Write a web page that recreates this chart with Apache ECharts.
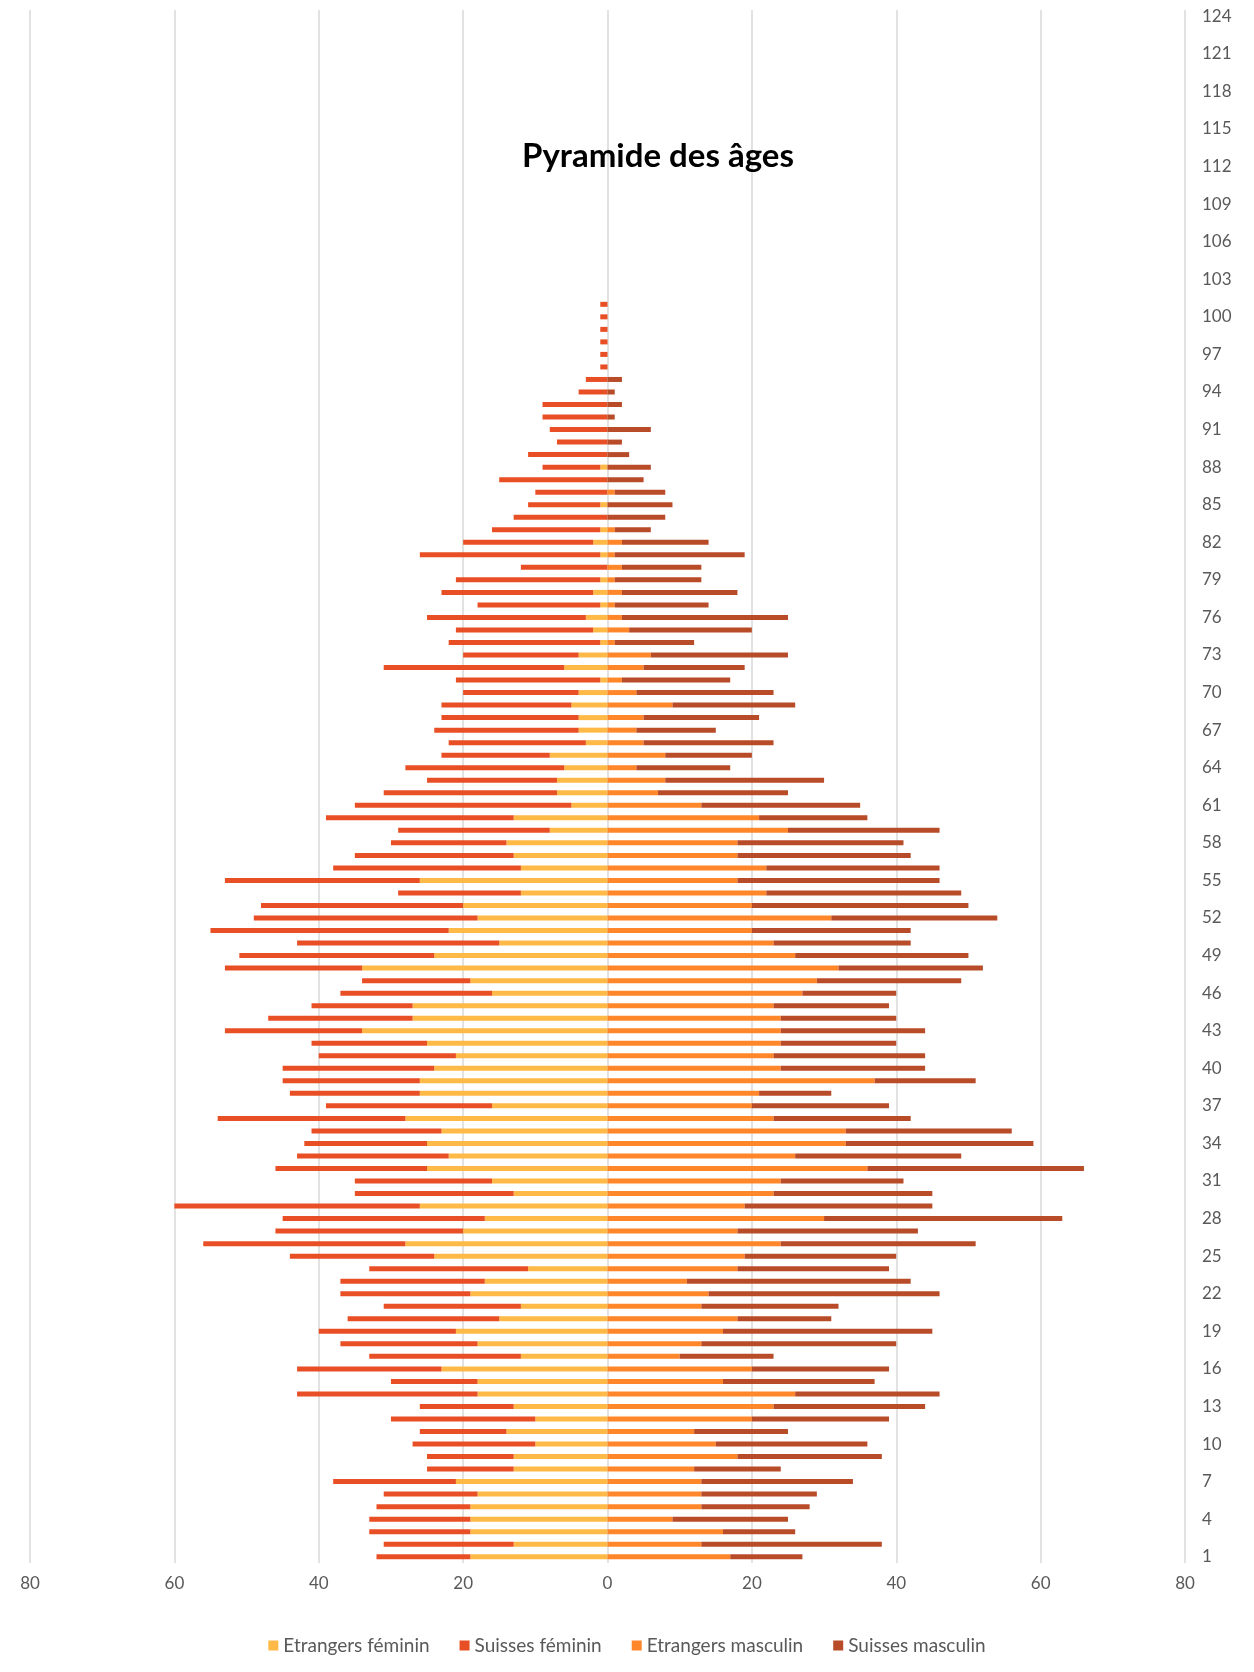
<!DOCTYPE html>
<html>
<head>
<meta charset="utf-8">
<script src="https://cdn.jsdelivr.net/npm/echarts@6/dist/echarts.min.js"></script>
<style>
html,body{margin:0;padding:0;background:#fff;}
#chart{width:1254px;height:1672px;}
</style>
</head>
<body>
<div id="chart"></div>
<script>
// Ages 1..124 (category axis)
const ages = [];
for (let a = 1; a <= 124; a++) ages.push(String(a));

// Values per age, index 0 = age 1 (ages 1..101)
const etrangersFeminin = [19,13,19,19,19,18,21,13,13,10, 14,10,13,18,18,23,12,18,21,15, 12,19,17,11,24,28,20,17,26,13, 16,25,22,25,23,28,16,26,26,24, 21,25,34,27,27,16,19,34,24,15, 22,18,20,12,26,12,13,14,8,13, 5,7,7,6,8,3,4,4,5,4, 1,6,4,1,2,3,1,2,1,0, 1,2,1,0,1,0,0,1,0,0, 0,0,0,0,0,0,0,0,0,0, 0];
const suissesFeminin = [13,18,14,14,13,13,17,12,12,17, 12,20,13,25,12,20,21,19,19,21, 19,18,20,22,20,28,26,28,34,22, 19,21,21,17,18,26,23,18,19,21, 19,16,19,20,14,21,15,19,27,28, 33,31,28,17,27,26,22,16,21,26, 30,24,18,22,15,19,20,19,18,16, 20,25,16,21,19,22,17,21,20,12, 25,18,15,13,10,10,15,8,11,7, 8,9,9,4,3,1,1,1,1,1, 1];
const etrangersMasculin = [17,13,16,9,13,13,13,12,18,15, 12,20,23,26,16,20,10,13,16,18, 13,14,11,18,19,24,18,30,19,23, 24,36,26,33,33,23,20,21,37,24, 23,24,24,24,23,27,29,32,26,23, 20,31,20,22,18,22,18,18,25,21, 13,7,8,4,8,5,4,5,9,4, 2,5,6,1,3,2,1,2,1,2, 1,2,1,0,0,1,0,0,0,0, 0,0,0,0,0,0,0,0,0,0, 0];
const suissesMasculin = [10,25,10,16,15,16,21,12,20,21, 13,19,21,20,21,19,13,27,29,13, 19,32,31,21,21,27,25,33,26,22, 17,30,23,26,23,19,19,10,14,20, 21,16,20,16,16,13,20,20,24,19, 22,23,30,27,28,24,24,23,21,15, 22,18,22,13,12,18,11,16,17,19, 15,14,19,11,17,23,13,16,12,11, 18,12,5,8,9,7,5,6,3,2, 6,1,2,1,2,0,0,0,0,0, 0];

const xTicks = [-80,-60,-40,-20,0,20,40,60,80];

const colors = {
  ef: '#FFB946',
  sf: '#E84F24',
  em: '#FF8729',
  sm: '#B84B28'
};

const neg = arr => arr.map(v => -v);
const FONT = 'Lato, "Noto Sans", sans-serif';

const chart = echarts.init(document.getElementById('chart'), null, {renderer: 'canvas'});

function barSeries(name, data, color) {
  return {
    name: name,
    type: 'bar',
    stack: 'pyramide',
    data: data,
    barWidth: 5,
    itemStyle: {color: color},
    emphasis: {disabled: true},
    animation: false
  };
}

chart.setOption({
  backgroundColor: '#ffffff',
  animation: false,
  title: {
    text: 'Pyramide des âges',
    left: 653,
    textAlign: 'center',
    top: 135,
    textStyle: {fontFamily: FONT, fontWeight: 'bold', fontSize: 33, color: '#000000'}
  },
  legend: {
    top: 1631,
    left: 'center',
    icon: 'rect',
    itemWidth: 10,
    itemHeight: 10,
    itemGap: 30,
    textStyle: {fontFamily: FONT, fontSize: 19, color: '#595959'},
    data: ['Etrangers féminin', 'Suisses féminin', 'Etrangers masculin', 'Suisses masculin']
  },
  grid: {left: 30, right: 69, top: 10, bottom: 109, containLabel: false},
  xAxis: {
    type: 'value',
    min: xTicks[0],
    max: xTicks[xTicks.length - 1],
    interval: 20,
    axisLine: {show: false},
    axisTick: {show: false},
    splitLine: {show: true, lineStyle: {color: '#D9D9D9', width: 1.5}},
    axisLabel: {
      fontFamily: FONT, fontSize: 17, color: '#595959', margin: 12,
      formatter: v => String(Math.abs(v))
    }
  },
  yAxis: {
    type: 'category',
    data: ages,
    position: 'right',
    axisLine: {show: false},
    axisTick: {show: false},
    splitLine: {show: false},
    axisLabel: {
      interval: 2,
      fontFamily: FONT, fontSize: 17, color: '#595959', margin: 17
    }
  },
  series: [
    barSeries('Etrangers féminin', neg(etrangersFeminin), colors.ef),
    barSeries('Suisses féminin', neg(suissesFeminin), colors.sf),
    barSeries('Etrangers masculin', etrangersMasculin, colors.em),
    barSeries('Suisses masculin', suissesMasculin, colors.sm)
  ]
});
</script>
</body>
</html>
